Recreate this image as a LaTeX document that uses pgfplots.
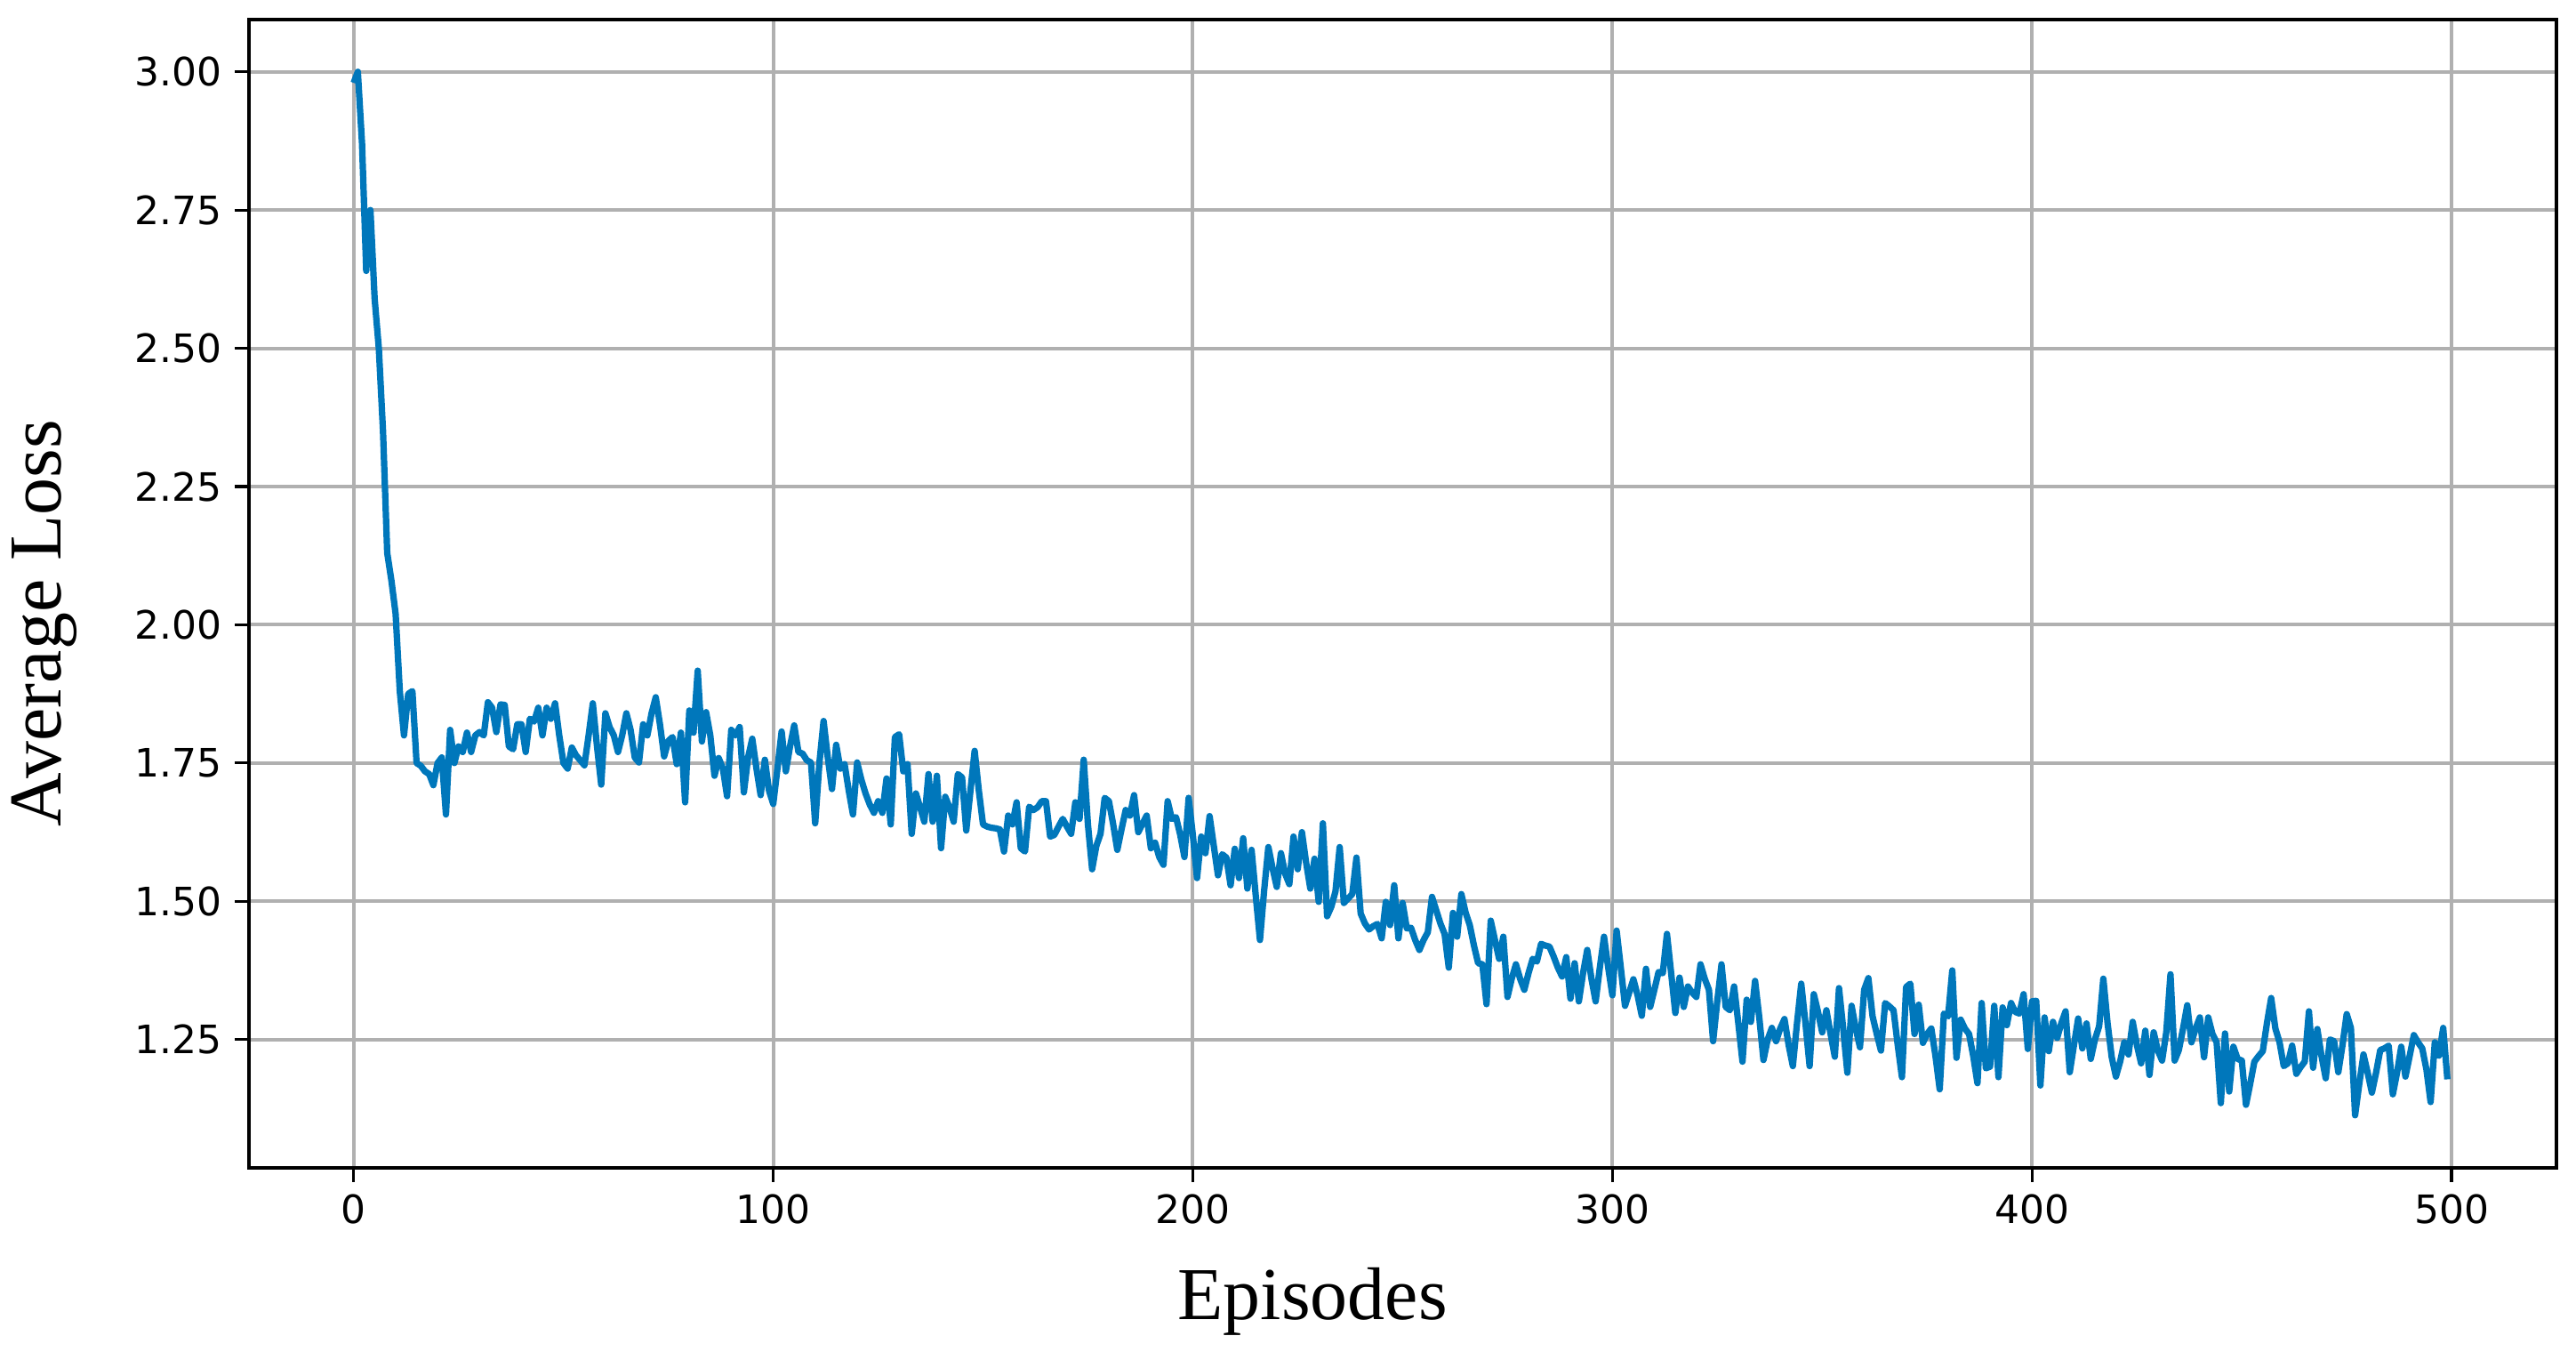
\documentclass[border=0pt]{standalone}
\usepackage{pgfplots}
\pgfplotsset{compat=1.18}
\usepackage{fontspec}
\setmainfont{Liberation Serif}
\newfontfamily\tickfont{DejaVu Sans}
\definecolor{losscol}{HTML}{0077BB}
\definecolor{gridgray}{HTML}{B0B0B0}

\begin{document}
\begin{tikzpicture}
\begin{axis}[
  scale only axis,
  width=649.5pt, height=323pt,
  xmin=-25, xmax=525,
  ymin=1.0185, ymax=3.0945,
  xtick={0,100,...,500},
  ytick={1.25,1.5,...,3.0},
  yticklabel style={/pgf/number format/.cd, fixed, fixed zerofill, precision=2},
  /pgf/number format/assume math mode=true,
  ticklabel style={font=\tickfont\fontsize{11}{11}\selectfont},
  tick align=outside,
  xtick pos=lower, ytick pos=left,
  major tick length=4pt,
  tick style={black, line width=0.8pt},
  axis line style={black, line width=1pt},
  grid=major,
  major grid style={gridgray, line width=1pt},
  xlabel={Episodes},
  ylabel={Average Loss},
  every axis x label/.style={at={(axis description cs:0.461,-0.1169)}, anchor=center,
    font=\fontsize{21}{21}\selectfont},
  every axis y label/.style={at={(axis description cs:-0.0885,0.474)}, rotate=90, anchor=center,
    font=\fontsize{21}{21}\selectfont},
]
\addplot[losscol, line width=1.8pt, line join=round, mark=none] coordinates {
(0,2.98) (1,3.00) (2,2.87) (3,2.64) (4,2.75) (5,2.59) (6,2.50) (7,2.35) (8,2.13) (9,2.08)
(10,2.02) (11,1.88) (12,1.80) (13,1.875) (14,1.88) (15,1.75) (16,1.745) (17,1.735) (18,1.73) (19,1.71)
(20,1.75) (21,1.76) (22,1.657) (23,1.81) (24,1.75) (25,1.78) (26,1.77) (27,1.805) (28,1.77) (29,1.80)
(30,1.806) (31,1.80) (32,1.86) (33,1.85) (34,1.806) (35,1.856) (36,1.855) (37,1.78) (38,1.775) (39,1.82)
(40,1.82) (41,1.77) (42,1.83) (43,1.825) (44,1.85) (45,1.80) (46,1.85) (47,1.83) (48,1.858) (49,1.80)
(50,1.75) (51,1.74) (52,1.778) (53,1.764) (54,1.755) (55,1.746) (56,1.80) (57,1.858) (58,1.78) (59,1.711)
(60,1.84) (61,1.815) (62,1.80) (63,1.77) (64,1.80) (65,1.84) (66,1.81) (67,1.76) (68,1.751) (69,1.82)
(70,1.80) (71,1.84) (72,1.869) (73,1.82) (74,1.762) (75,1.79) (76,1.797) (77,1.748) (78,1.805) (79,1.679)
(80,1.845) (81,1.805) (82,1.917) (83,1.789) (84,1.842) (85,1.80) (86,1.727) (87,1.759) (88,1.74) (89,1.69)
(90,1.81) (91,1.80) (92,1.815) (93,1.697) (94,1.76) (95,1.794) (96,1.74) (97,1.692) (98,1.756) (99,1.70)
(100,1.676) (101,1.74) (102,1.807) (103,1.735) (104,1.78) (105,1.818) (106,1.77) (107,1.767) (108,1.755) (109,1.751)
(110,1.641) (111,1.75) (112,1.826) (113,1.76) (114,1.703) (115,1.783) (116,1.74) (117,1.748) (118,1.70) (119,1.657)
(120,1.751) (121,1.72) (122,1.695) (123,1.675) (124,1.66) (125,1.681) (126,1.66) (127,1.722) (128,1.639) (129,1.797)
(130,1.802) (131,1.735) (132,1.748) (133,1.622) (134,1.695) (135,1.67) (136,1.644) (137,1.73) (138,1.644) (139,1.727)
(140,1.596) (141,1.689) (142,1.67) (143,1.644) (144,1.73) (145,1.724) (146,1.628) (147,1.70) (148,1.772) (149,1.70)
(150,1.639) (151,1.635) (152,1.633) (153,1.632) (154,1.63) (155,1.59) (156,1.655) (157,1.639) (158,1.679) (159,1.596)
(160,1.59) (161,1.671) (162,1.665) (163,1.67) (164,1.681) (165,1.681) (166,1.617) (167,1.62) (168,1.635) (169,1.649)
(170,1.635) (171,1.622) (172,1.679) (173,1.649) (174,1.756) (175,1.639) (176,1.558) (177,1.60) (178,1.622) (179,1.687)
(180,1.681) (181,1.64) (182,1.593) (183,1.63) (184,1.665) (185,1.655) (186,1.692) (187,1.625) (188,1.64) (189,1.655)
(190,1.596) (191,1.606) (192,1.58) (193,1.566) (194,1.681) (195,1.649) (196,1.652) (197,1.62) (198,1.58) (199,1.687)
(200,1.62) (201,1.542) (202,1.617) (203,1.587) (204,1.654) (205,1.60) (206,1.547) (207,1.585) (208,1.579) (209,1.529)
(210,1.595) (211,1.542) (212,1.614) (213,1.523) (214,1.593) (215,1.51) (216,1.43) (217,1.52) (218,1.598) (219,1.56)
(220,1.526) (221,1.587) (222,1.55) (223,1.531) (224,1.617) (225,1.558) (226,1.625) (227,1.57) (228,1.523) (229,1.577)
(230,1.499) (231,1.641) (232,1.473) (233,1.49) (234,1.518) (235,1.598) (236,1.497) (237,1.505) (238,1.513) (239,1.579)
(240,1.478) (241,1.46) (242,1.449) (243,1.455) (244,1.459) (245,1.433) (246,1.499) (247,1.457) (248,1.529) (249,1.433)
(250,1.497) (251,1.451) (252,1.452) (253,1.43) (254,1.412) (255,1.43) (256,1.444) (257,1.508) (258,1.484) (259,1.46)
(260,1.441) (261,1.38) (262,1.479) (263,1.436) (264,1.513) (265,1.48) (266,1.457) (267,1.42) (268,1.388) (269,1.386)
(270,1.314) (271,1.465) (272,1.43) (273,1.396) (274,1.436) (275,1.327) (276,1.36) (277,1.386) (278,1.36) (279,1.34)
(280,1.37) (281,1.396) (282,1.391) (283,1.423) (284,1.42) (285,1.418) (286,1.40) (287,1.38) (288,1.364) (289,1.399)
(290,1.324) (291,1.388) (292,1.319) (293,1.37) (294,1.412) (295,1.36) (296,1.319) (297,1.38) (298,1.436) (299,1.38)
(300,1.33) (301,1.447) (302,1.38) (303,1.311) (304,1.335) (305,1.359) (306,1.33) (307,1.293) (308,1.378) (309,1.309)
(310,1.34) (311,1.372) (312,1.37) (313,1.441) (314,1.37) (315,1.298) (316,1.362) (317,1.309) (318,1.346) (319,1.335)
(320,1.327) (321,1.386) (322,1.36) (323,1.34) (324,1.247) (325,1.32) (326,1.386) (327,1.309) (328,1.303) (329,1.346)
(330,1.28) (331,1.21) (332,1.322) (333,1.282) (334,1.356) (335,1.29) (336,1.213) (337,1.25) (338,1.271) (339,1.247)
(340,1.27) (341,1.287) (342,1.24) (343,1.202) (344,1.28) (345,1.351) (346,1.28) (347,1.202) (348,1.332) (349,1.30)
(350,1.263) (351,1.303) (352,1.26) (353,1.219) (354,1.343) (355,1.27) (356,1.19) (357,1.311) (358,1.27) (359,1.236)
(360,1.34) (361,1.361) (362,1.292) (363,1.26) (364,1.23) (365,1.316) (366,1.31) (367,1.303) (368,1.24) (369,1.182)
(370,1.345) (371,1.351) (372,1.26) (373,1.313) (374,1.244) (375,1.26) (376,1.27) (377,1.22) (378,1.16) (379,1.297)
(380,1.292) (381,1.375) (382,1.217) (383,1.286) (384,1.27) (385,1.26) (386,1.22) (387,1.171) (388,1.316) (389,1.198)
(390,1.201) (391,1.311) (392,1.182) (393,1.308) (394,1.276) (395,1.316) (396,1.30) (397,1.297) (398,1.332) (399,1.233)
(400,1.319) (401,1.32) (402,1.167) (403,1.29) (404,1.229) (405,1.282) (406,1.253) (407,1.28) (408,1.301) (409,1.191)
(410,1.24) (411,1.288) (412,1.234) (413,1.279) (414,1.215) (415,1.25) (416,1.274) (417,1.36) (418,1.28) (419,1.218)
(420,1.183) (421,1.21) (422,1.245) (423,1.223) (424,1.282) (425,1.24) (426,1.207) (427,1.266) (428,1.186) (429,1.263)
(430,1.23) (431,1.212) (432,1.263) (433,1.368) (434,1.212) (435,1.231) (436,1.27) (437,1.312) (438,1.245) (439,1.27)
(440,1.29) (441,1.218) (442,1.29) (443,1.26) (444,1.245) (445,1.135) (446,1.261) (447,1.156) (448,1.237) (449,1.215)
(450,1.212) (451,1.132) (452,1.17) (453,1.21) (454,1.22) (455,1.229) (456,1.28) (457,1.325) (458,1.27) (459,1.245)
(460,1.202) (461,1.207) (462,1.239) (463,1.188) (464,1.20) (465,1.21) (466,1.301) (467,1.199) (468,1.269) (469,1.22)
(470,1.18) (471,1.25) (472,1.247) (473,1.191) (474,1.24) (475,1.296) (476,1.271) (477,1.113) (478,1.17) (479,1.223)
(480,1.19) (481,1.154) (482,1.19) (483,1.231) (484,1.234) (485,1.239) (486,1.151) (487,1.19) (488,1.237) (489,1.183)
(490,1.22) (491,1.258) (492,1.245) (493,1.234) (494,1.196) (495,1.137) (496,1.245) (497,1.221) (498,1.271) (499,1.178)
};
\end{axis}
\path (current axis.south west) ++(-69pt,-51.75pt) coordinate (bbl);
\path (current axis.north east) ++(5.5pt,5.5pt) coordinate (btr);
\path (bbl) rectangle (btr);
\end{tikzpicture}
\end{document}
